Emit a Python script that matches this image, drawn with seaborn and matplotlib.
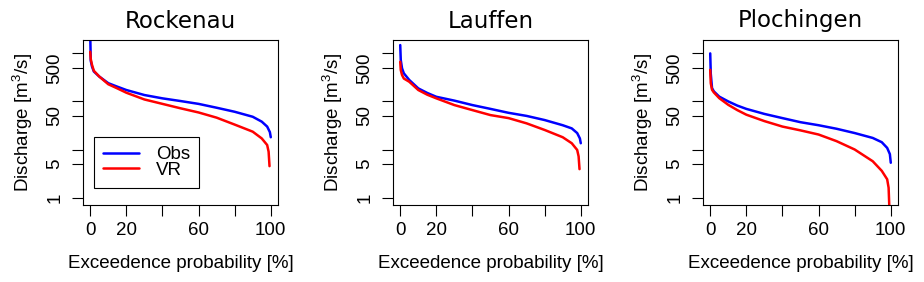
import matplotlib
matplotlib.use("Agg")
import pandas as pd
import matplotlib.pyplot as plt
import seaborn as sns

# === Data ===
stations = ["Rockenau", "Lauffen", "Plochingen"]

p_obs = [0, 0.3, 1, 2, 5, 10, 15, 20, 30, 40, 50, 60, 70, 80, 90, 95, 98, 99.5, 100]
p_vr = [0, 0.3, 1, 2, 5, 10, 15, 20, 30, 40, 50, 60, 70, 80, 90, 95, 98, 98.8, 99.3]

obs_rockenau = [2500, 700, 530, 420, 330, 240, 203, 173, 136, 116, 102, 89, 74, 61, 48, 38, 30, 23, 18]
vr_rockenau = [1080, 760, 575, 435, 330, 228, 187, 152, 110, 89, 72, 59, 46, 33, 23.5, 17, 12.4, 9, 4.5]

obs_lauffen = [1490, 730, 490, 385, 280, 187, 150, 125, 104, 84, 70, 58, 50, 41, 32, 27.5, 22, 17, 13.5]
vr_lauffen = [670, 450, 355, 300, 257, 173, 138, 116, 84, 66, 52, 45, 35, 25.5, 18, 13.5, 9.8, 7.2, 3.9]

obs_plochingen = [1000, 380, 190, 162, 126, 100, 82, 70, 55, 45, 37, 32, 27, 22, 17.4, 14.2, 10.8, 8, 5.3]
vr_plochingen = [455, 240, 175, 154, 117, 85, 66, 53, 39, 30, 25, 20.5, 14.9, 10, 5.7, 3.6, 2.4, 1.6, 0.5]

obs_all = [obs_rockenau, obs_lauffen, obs_plochingen]
vr_all = [vr_rockenau, vr_lauffen, vr_plochingen]

y_ticks = [1, 5, 10, 50, 100, 500, 1000]
y_labels = ["1", "5", "", "50", "", "500", ""]
x_ticks = [0, 20, 40, 60, 80, 100]
x_labels = ["0", "20", "", "60", "", "100"]

# === Style ===
sns.set_style("ticks")
plt.rcParams["font.family"] = ["Liberation Sans", "DejaVu Sans"]
plt.rcParams["mathtext.default"] = "regular"
plt.rcParams["text.color"] = "black"
plt.rcParams["axes.labelcolor"] = "black"
plt.rcParams["xtick.color"] = "black"
plt.rcParams["ytick.color"] = "black"

colors = {"Obs": "blue", "VR": "red"}

fig = plt.figure(figsize=(9.24, 2.82), dpi=100)
lefts = [83, 393, 703]

for i, name in enumerate(stations):
    ax = fig.add_axes([lefts[i] / 924, 77 / 282, 195 / 924, 165 / 282])
    df = pd.concat([
        pd.DataFrame({"p": p_obs, "q": obs_all[i], "series": "Obs"}),
        pd.DataFrame({"p": p_vr, "q": vr_all[i], "series": "VR"}),
    ])
    sns.lineplot(data=df, x="p", y="q", hue="series", palette=colors,
                 estimator=None, sort=False, linewidth=1.8, legend=False, ax=ax)

    ax.set_yscale("log")
    ax.set_ylim(0.7, 1900)
    ax.set_xlim(-4, 104)
    ax.set_yticks(y_ticks)
    ax.set_yticklabels(y_labels)
    ax.minorticks_off()
    ax.set_xticks(x_ticks)
    ax.set_xticklabels(x_labels)

    for s in ax.spines.values():
        s.set_color("black")
        s.set_linewidth(0.8)
    ax.tick_params(direction="out", length=8, width=0.8, color="black",
                   labelsize=13.5, labelcolor="black")
    ax.tick_params(axis="x", pad=4)
    ax.tick_params(axis="y", labelrotation=90, pad=6)
    for lab in ax.get_yticklabels():
        lab.set_va("center")

    ax.set_title(name, fontsize=16.5, family="DejaVu Sans", color="black", pad=9)
    ax.set_xlabel("Exceedence probability [%]", fontsize=13.5, labelpad=12)
    ax.set_ylabel("Discharge [m$^3$/s]", fontsize=13.5, labelpad=8)

    if i == 0:
        leg = ax.legend(handles=ax.lines[:2], labels=["Obs", "VR"],
                        loc="lower left", bbox_to_anchor=(0.056, 0.103),
                        borderaxespad=0, fancybox=False, framealpha=1,
                        edgecolor="black", fontsize=13.5, handlelength=1.9,
                        handletextpad=0.9, borderpad=0.5, labelspacing=-0.1)
        leg.get_frame().set_linewidth(0.8)

fig.savefig("out.png", dpi=100)
